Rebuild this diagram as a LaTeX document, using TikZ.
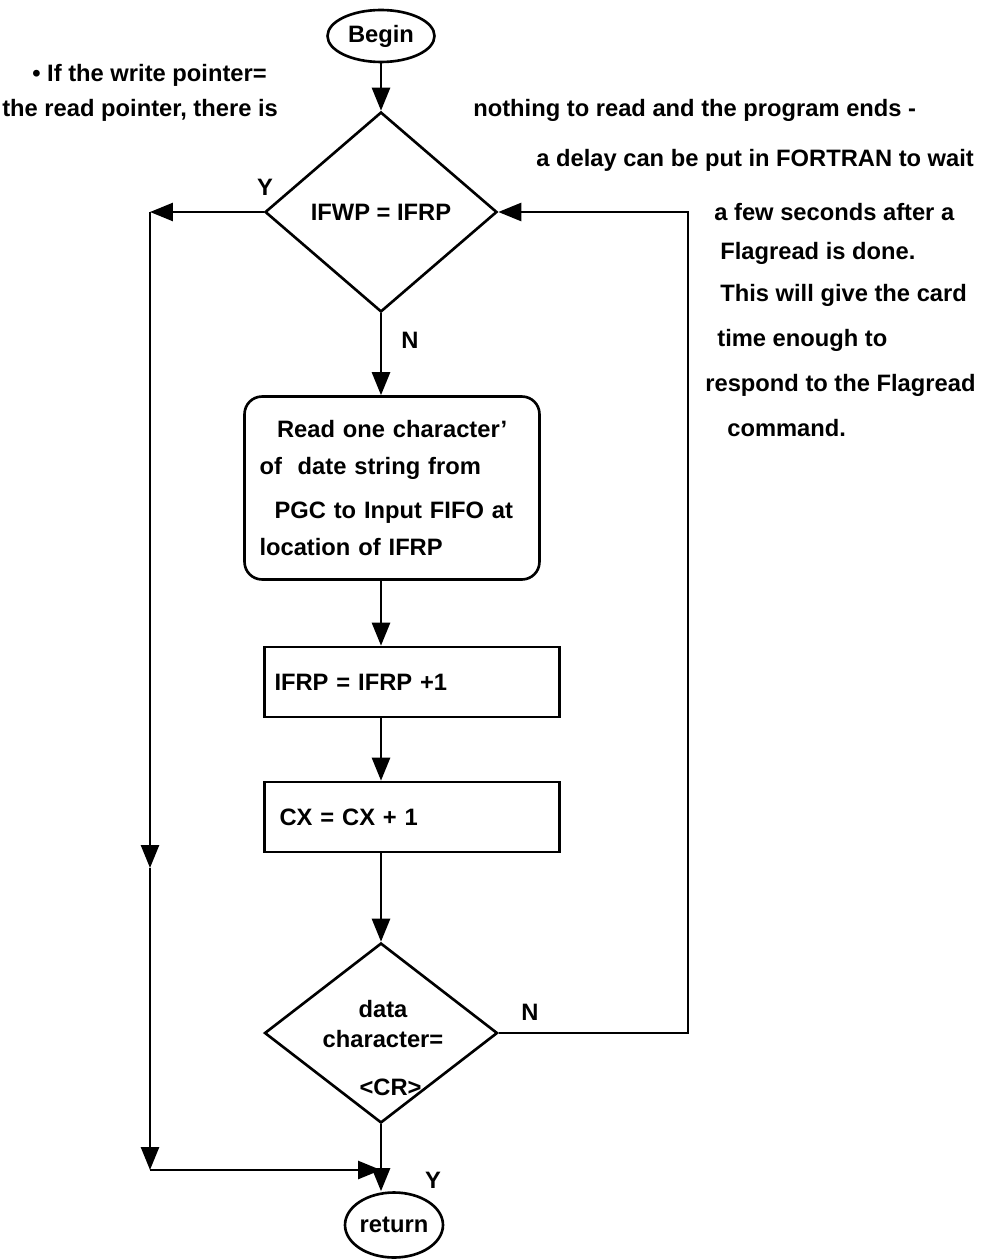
\documentclass[tikz,border=0pt]{standalone}
\usepackage{fontspec}
\setmainfont{Liberation Sans}
\usepackage{tikz}
\usetikzlibrary{arrows.meta,positioning,calc,shapes.geometric}

\begin{document}
\begin{tikzpicture}[
  x=0.02cm, y=-0.02cm,
  txt/.style={font=\fontsize{13.5}{15}\selectfont\bfseries, inner sep=0pt},
  note/.style={txt, anchor=west},
  term/.style={draw, ellipse, line width=1.5pt, inner sep=0pt, txt,
    minimum width=2.14cm, minimum height=1.04cm},
  decision/.style={draw, diamond, line width=1.5pt, inner sep=0pt, txt},
  procbox/.style={draw, line width=1.5pt, txt, minimum width=5.9cm,
    minimum height=1.4cm},
  arr/.style={-{Triangle[length=4.6mm,width=3.6mm]}, line width=1.5pt},
]
\useasboundingbox (0,0) rectangle (1002,1260);

% main column
\node[term] (begin) at (381,36) {Begin};
\node[decision, minimum width=4.64cm, minimum height=4cm] (d1) at (381,212) {IFWP = IFRP};
\node[procbox, rounded corners=10pt, minimum height=3.66cm, text width=5.3cm,
  align=left] (read) at (392,488)
  {\hspace*{0.35cm}Read one character'\\[6pt] of\ \ date string from\\[10pt]
   \hspace*{0.3cm}PGC to Input FIFO at\\[6pt]location of IFRP};
\node[procbox, text width=5.5cm, align=left] (inc) at (412,682) {IFRP = IFRP +1};
\node[procbox, text width=5.5cm, align=left] (cnt) at (412,817) {\hspace*{0.1cm}CX = CX + 1};
\node[decision, minimum width=4.66cm, minimum height=3.6cm] (d2) at (381,1033) {};
\node[txt, align=center] (d2txt) at (383,1048)
  {data\\[2pt]character=\\[12pt]\hspace*{0.3cm}<CR>};
\node[term, minimum width=1.96cm, minimum height=1.3cm] (ret) at (394,1225) {return};

\draw[arr] (begin) -- (d1.north);
\draw[arr] (d1.south) -- (d1.south |- read.north);
\draw[arr] (d1.south |- read.south) -- (d1.south |- inc.north);
\draw[arr] (d1.south |- inc.south) -- (d1.south |- cnt.north);
\draw[arr] (d1.south |- cnt.south) -- (d2.north);
\draw[arr] (d2.south) -- (d2.south |- ret.north);

% Y branch, left side
\coordinate (lt) at (150,212);
\coordinate (lmid) at (150,868);
\coordinate (lb) at (150,1170);
\draw[arr] (d1.west) -- (lt);
\draw[arr] (lt) -- (lmid);
\draw[arr] (lmid) -- (lb);
\draw[arr] (lb) -- (d2.south |- lb);

% N branch, right side
\coordinate (rc) at (688,212);
\draw[arr] (d2.east) -| (rc) -- (d1.east);

% branch labels
\node[txt] (y1) at (265,187) {Y};
\node[txt] (n1) at (410,340) {N};
\node[txt] (n2) at (530,1012) {N};
\node[txt] (y2) at (433,1180) {Y};

% notes
\node[note] (c1) at (32,75) {• If the write pointer=};
\node[note] (c2) at (2,110) {the read pointer, there is};
\node[note] (c3) at (473,110) {nothing to read and the program ends -};
\node[note] (c4) at (536,160) {a delay can be put in FORTRAN to wait};
\node[note] (c5) at (714,212) {a few seconds after a};
\node[note] (c6) at (720,253) {Flagread is done.};
\node[note] (c7) at (720,295) {This will give the card};
\node[note] (c8) at (717,340) {time enough to};
\node[note] (c9) at (705,385) {respond to the Flagread};
\node[note] (c10) at (727,428) {command.};
\end{tikzpicture}
\end{document}
